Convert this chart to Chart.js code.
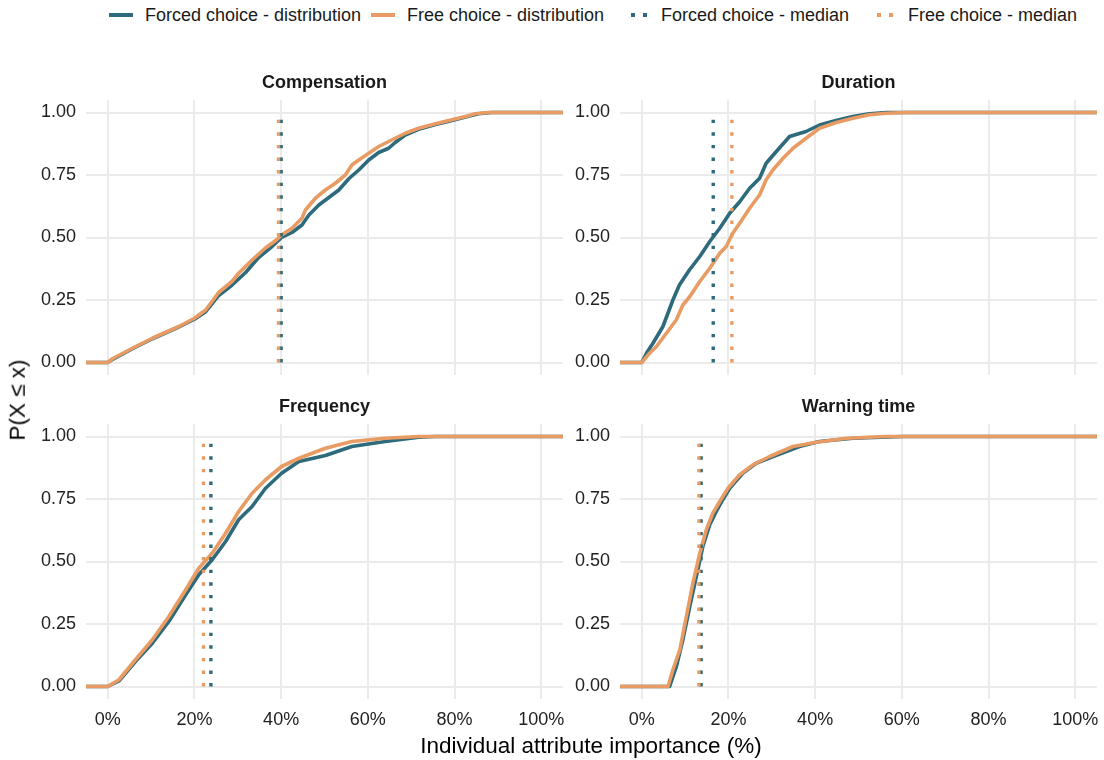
<!DOCTYPE html>
<html>
<head>
<meta charset="utf-8">
<script src="https://cdn.jsdelivr.net/npm/chart.js@4.4.1/dist/chart.umd.min.js"></script>
<style>
  body { margin: 0; background: #fff; width: 1104px; height: 760px; overflow: hidden; position: relative;
         font-family: "Liberation Sans", Arial, sans-serif; }
  canvas { position: absolute; }
  .txt { position: absolute; white-space: nowrap; line-height: 1; }
  .strip { font-weight: bold; font-size: 18px; color: #1a1a1a; transform: translate(-50%, -50%); }
  .legtext { font-size: 18px; color: #1a1a1a; transform: translateY(-50%); }
  .key { position: absolute; height: 4px; transform: translateY(-50%); }
  .dot { position: absolute; width: 4px; height: 4px; transform: translateY(-50%); }
</style>
</head>
<body>
<div id="root"></div>
<script>
// Facet names
const panelNames = ['Compensation', 'Duration', 'Frequency', 'Warning time'];

// Axis ticks
const xTickValues = [0, 20, 40, 60, 80, 100];
const yTickValues = [0, 0.25, 0.5, 0.75, 1];

// Empirical CDFs: [importance %, P(X <= x)]
const compensationForced = [[-5,0],[0,0],[1.1,0.012],[5.7,0.055],[10.3,0.095],[16.4,0.142],[20,0.173],[22.6,0.203],[25.6,0.268],[28.7,0.31],[31.8,0.36],[34.8,0.42],[37.9,0.464],[40.1,0.5],[42.5,0.52],[44.8,0.55],[46.4,0.59],[48.7,0.63],[51,0.66],[53.3,0.69],[55.6,0.735],[57.9,0.77],[60.2,0.81],[62.5,0.84],[64.8,0.857],[66.3,0.88],[68.6,0.91],[71.7,0.933],[75.6,0.952],[79.4,0.968],[83.2,0.985],[85.5,0.995],[88.5,1],[105,1]];
const compensationFree = [[-5,0],[0,0],[1.1,0.015],[5.7,0.057],[10.3,0.097],[16.4,0.144],[20,0.177],[22.6,0.21],[25.6,0.28],[28.7,0.325],[30.2,0.357],[33.3,0.41],[36.3,0.457],[38.9,0.49],[40.1,0.51],[42.5,0.537],[44.8,0.577],[45.6,0.61],[47.9,0.657],[50.2,0.69],[52.5,0.717],[54.8,0.75],[56.3,0.79],[57.9,0.81],[60.2,0.837],[62.5,0.864],[65.5,0.89],[68.6,0.917],[71.7,0.937],[75.6,0.955],[79.4,0.971],[83.2,0.987],[84.7,0.995],[87.8,1],[105,1]];

const durationForced = [[-5,0],[0,0],[1.2,0.04],[2.6,0.077],[4.9,0.144],[7.2,0.25],[8.7,0.31],[11,0.37],[13.4,0.424],[15.7,0.484],[18,0.537],[20.3,0.597],[22.6,0.643],[24.9,0.697],[27.2,0.737],[28.7,0.797],[31,0.843],[34.1,0.904],[37.9,0.924],[41,0.95],[44.8,0.968],[48.7,0.984],[52.5,0.995],[56.4,1],[105,1]];
const durationFree = [[-5,0],[0,0],[1.8,0.037],[3.4,0.064],[5.7,0.117],[8,0.171],[9.5,0.23],[11.1,0.264],[13.4,0.324],[15.7,0.377],[18,0.437],[19.5,0.464],[21,0.517],[22.6,0.557],[24.9,0.617],[27.2,0.671],[28.7,0.731],[30.3,0.771],[32.6,0.817],[34.9,0.857],[37.9,0.897],[41,0.937],[44.9,0.96],[48.7,0.977],[52.5,0.991],[56.4,0.997],[61,1],[105,1]];

const frequencyForced = [[-5,0],[0,0],[2.6,0.022],[6.4,0.1],[10.3,0.173],[14.1,0.26],[18,0.367],[21,0.447],[24.1,0.507],[27.2,0.58],[30.2,0.667],[33.3,0.72],[36.4,0.793],[40.1,0.853],[44.1,0.9],[50.2,0.924],[56.3,0.96],[64,0.98],[71.7,0.997],[75.5,1],[105,1]];
const frequencyFree = [[-5,0],[0,0],[2.6,0.027],[6.4,0.107],[10.3,0.187],[14.1,0.28],[18,0.387],[21,0.473],[24.1,0.533],[27.2,0.613],[30.2,0.7],[33.3,0.773],[36.4,0.827],[40.1,0.88],[44.1,0.913],[50.2,0.953],[56.3,0.98],[64,0.993],[71.7,1],[105,1]];

const warningForced = [[-5,0],[6.45,0],[8,0.08],[9.5,0.187],[11.1,0.32],[12.6,0.44],[14.1,0.56],[15.7,0.647],[17.2,0.7],[18.7,0.747],[20.3,0.793],[23.3,0.853],[26.4,0.893],[30.3,0.92],[36.4,0.96],[41,0.98],[48.7,0.993],[60.2,1],[105,1]];
const warningFree = [[-5,0],[6.07,0],[7.2,0.067],[8.8,0.147],[10.3,0.28],[11.8,0.413],[13.4,0.533],[14.9,0.627],[16.4,0.693],[18,0.74],[19.9,0.793],[22.6,0.847],[25.7,0.887],[29.5,0.92],[34.9,0.96],[39.9,0.976],[47.2,0.993],[56.4,1],[105,1]];

// Medians per facet (same order as panelNames)
const medianForced = [40.0, 16.5, 23.8, 13.7];
const medianFree = [39.4, 20.8, 22.1, 13.2];

const forcedSeries = [compensationForced, durationForced, frequencyForced, warningForced];
const freeSeries = [compensationFree, durationFree, frequencyFree, warningFree];

const legendLabels = ['Forced choice - distribution', 'Free choice - distribution', 'Forced choice - median', 'Free choice - median'];

// ---- styling / layout ----
const TEAL = '#2d6a7b';
const ORANGE = '#e89b62';
const GRID = '#ebebeb';
const FONT = '"Liberation Sans", Arial, sans-serif';
const PLOT_W = 477, PLOT_H = 275;
const boxes = [
  { left: 86, top: 100, xAxis: false },
  { left: 620, top: 100, xAxis: false },
  { left: 86, top: 424, xAxis: true },
  { left: 620, top: 424, xAxis: true }
];
const root = document.getElementById('root');

function addText(cls, text, x, y, extra) {
  const d = document.createElement('div');
  d.className = 'txt ' + cls;
  d.textContent = text;
  d.style.left = x + 'px';
  d.style.top = y + 'px';
  if (extra) Object.assign(d.style, extra);
  root.appendChild(d);
  return d;
}

const toXY = arr => arr.map(p => ({ x: p[0], y: p[1] }));
const medianLine = m => [{ x: m, y: 0 }, { x: m, y: 1 }];

// keep the plot area exactly where the layout puts it
function noScalePadding(s) {
  s.paddingTop = 0; s.paddingBottom = 0; s.paddingLeft = 0; s.paddingRight = 0;
}

boxes.forEach((b, i) => {
  const padTop = 14, yAxisW = 60, padRight = 6;
  const xAxisH = b.xAxis ? 35 : 0;
  const padBottom = b.xAxis ? 5 : 14;
  const cw = yAxisW + PLOT_W + padRight;
  const ch = padTop + PLOT_H + xAxisH + padBottom;
  const cv = document.createElement('canvas');
  cv.width = cw; cv.height = ch;
  cv.style.left = (b.left - yAxisW) + 'px';
  cv.style.top = (b.top - padTop) + 'px';
  cv.style.width = cw + 'px'; cv.style.height = ch + 'px';
  root.appendChild(cv);

  const lineCommon = { pointRadius: 0, tension: 0, borderWidth: 3.6, fill: false,
                       borderJoinStyle: 'round', borderCapStyle: 'butt' };
  const dotCommon = { pointRadius: 0, borderWidth: 3.4, fill: false,
                      borderDash: [3.4, 9.2], borderCapStyle: 'butt' };

  new Chart(cv, {
    type: 'line',
    data: {
      datasets: [
        Object.assign({ label: legendLabels[3], data: medianLine(medianFree[i]), borderColor: ORANGE, order: 0 }, dotCommon),
        Object.assign({ label: legendLabels[2], data: medianLine(medianForced[i]), borderColor: TEAL, order: 1 }, dotCommon),
        Object.assign({ label: legendLabels[1], data: toXY(freeSeries[i]), borderColor: ORANGE, order: 2 }, lineCommon),
        Object.assign({ label: legendLabels[0], data: toXY(forcedSeries[i]), borderColor: TEAL, order: 3 }, lineCommon)
      ]
    },
    options: {
      responsive: false,
      animation: false,
      devicePixelRatio: 1,
      layout: { padding: { left: 0, right: padRight, top: padTop, bottom: padBottom } },
      plugins: { legend: { display: false }, tooltip: { enabled: false } },
      scales: {
        x: {
          type: 'linear', min: -5, max: 105,
          afterBuildTicks: s => { s.ticks = xTickValues.map(v => ({ value: v })); },
          afterFit: s => { s.height = xAxisH; noScalePadding(s); },
          grid: { color: GRID, lineWidth: 2, drawTicks: false },
          border: { display: false },
          ticks: { display: b.xAxis, padding: 10, color: '#222', font: { family: FONT, size: 18 },
                   maxRotation: 0, callback: v => v + '%' }
        },
        y: {
          type: 'linear', min: -0.05, max: 1.05,
          afterBuildTicks: s => { s.ticks = yTickValues.map(v => ({ value: v })); },
          afterFit: s => { s.width = yAxisW; noScalePadding(s); },
          grid: { color: GRID, lineWidth: 2, drawTicks: false },
          border: { display: false },
          ticks: { padding: 10, color: '#222', font: { family: FONT, size: 18 },
                   callback: v => Number(v).toFixed(2) }
        }
      }
    }
  });

  // facet strip title
  addText('strip', panelNames[i], b.left + PLOT_W / 2, b.top - 18);
});

// axis titles
addText('', 'Individual attribute importance (%)', 591, 746,
  { fontSize: '22.5px', color: '#000', transform: 'translate(-50%, -50%)' });
addText('', 'P(X \u2264 x)', 18, 400,
  { fontSize: '22.5px', color: '#000', transform: 'translate(-50%, -50%) rotate(-90deg)' });

// legend
const LEG_Y = 15;
const legendItems = [
  { key: 109, text: 145, color: TEAL, dotted: false },
  { key: 371, text: 407, color: ORANGE, dotted: false },
  { key: 627, text: 661, color: TEAL, dotted: true },
  { key: 873, text: 908, color: ORANGE, dotted: true }
];
legendItems.forEach((it, i) => {
  if (it.dotted) {
    [4, 16].forEach(off => {
      const d = document.createElement('div');
      d.className = 'dot';
      d.style.left = (it.key + off) + 'px';
      d.style.top = LEG_Y + 'px';
      d.style.background = it.color;
      root.appendChild(d);
    });
  } else {
    const k = document.createElement('div');
    k.className = 'key';
    k.style.left = it.key + 'px';
    k.style.top = LEG_Y + 'px';
    k.style.width = '24px';
    k.style.background = it.color;
    root.appendChild(k);
  }
  addText('legtext', legendLabels[i], it.text, LEG_Y);
});
</script>
</body>
</html>
